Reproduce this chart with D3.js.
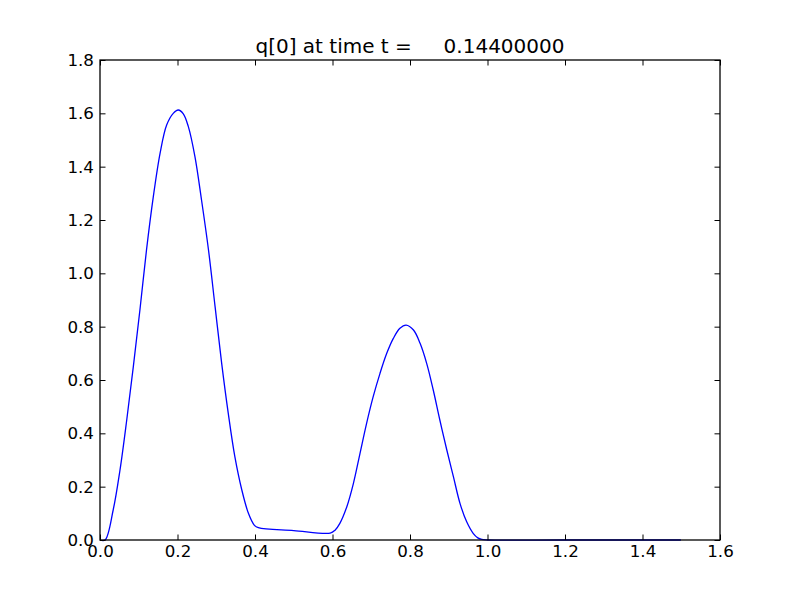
<!DOCTYPE html>
<html>
<head>
<meta charset="utf-8">
<script src="https://d3js.org/d3.v7.min.js"></script>
<style>
body { margin: 0; background: #fff; }
svg { display: block; }
text { font-family: "DejaVu Sans", sans-serif; fill: #000; }
</style>
</head>
<body>
<svg id="chart" width="800" height="600"></svg>
<script>
const title = "q[0] at time t =     0.14400000";
const xTicks = [0.0, 0.2, 0.4, 0.6, 0.8, 1.0, 1.2, 1.4, 1.6];
const yTicks = [0.0, 0.2, 0.4, 0.6, 0.8, 1.0, 1.2, 1.4, 1.6, 1.8];
const xs = [0.0, 0.013, 0.034, 0.0516, 0.069, 0.086, 0.103, 0.120, 0.1376, 0.155, 0.172, 0.189,
  0.202, 0.215, 0.228, 0.245, 0.262, 0.280, 0.297, 0.314, 0.331, 0.348, 0.366, 0.383, 0.398,
  0.4086, 0.5, 0.594, 0.606, 0.619, 0.637, 0.654, 0.671, 0.688, 0.705, 0.7226, 0.740, 0.757,
  0.774, 0.790, 0.809, 0.826, 0.843, 0.860, 0.877, 0.895, 0.912, 0.929, 0.946, 0.963, 0.975,
  0.985, 1.0, 1.2, 1.499];
const qs = [0.0, 0.0, 0.1125, 0.2625, 0.45, 0.65, 0.8625, 1.0875, 1.2875, 1.45, 1.556, 1.6,
  1.6125, 1.598, 1.55, 1.4375, 1.275, 1.0875, 0.875, 0.6625, 0.475, 0.3125, 0.1875, 0.1, 0.056,
  0.046, 0.0355, 0.026, 0.036, 0.0625, 0.125, 0.2125, 0.325, 0.4375, 0.5375, 0.625, 0.7, 0.756,
  0.794, 0.806, 0.7875, 0.7375, 0.6625, 0.5625, 0.45, 0.3375, 0.2375, 0.1375, 0.069, 0.025, 0.008,
  0.002, 0.0, 0.0, 0.0];

(function () {
const svg = d3.select("#chart");
const L = 100, R = 720, T = 60, B = 540;
const x = d3.scaleLinear().domain([0, 1.6]).range([L, R]);
const y = d3.scaleLinear().domain([0, 1.8]).range([B, T]);
const tl = 5.5;
const fs = "16.7px";

const data = xs.map((v, i) => [v, qs[i]]);
svg.append("path")
  .datum(data)
  .attr("fill", "none")
  .attr("stroke", "#0000ff")
  .attr("stroke-width", 1.3)
  .attr("d", d3.line().x(d => x(d[0])).y(d => y(d[1])).curve(d3.curveCatmullRom.alpha(0.5)));

svg.append("rect").attr("x", L).attr("y", T).attr("width", R - L).attr("height", B - T)
  .attr("fill", "none").attr("stroke", "#000").attr("stroke-width", 1.3);

const fmt = d3.format(".1f");
const gB = svg.append("g").attr("transform", `translate(0,${B})`)
  .call(d3.axisBottom(x).tickValues(xTicks).tickFormat(fmt).tickSize(-tl).tickPadding(5.5));
const gT = svg.append("g").attr("transform", `translate(0,${T})`)
  .call(d3.axisTop(x).tickValues(xTicks).tickFormat("").tickSize(-tl));
const gL = svg.append("g").attr("transform", `translate(${L},0)`)
  .call(d3.axisLeft(y).tickValues(yTicks).tickFormat(fmt).tickSize(-tl).tickPadding(6));
const gR = svg.append("g").attr("transform", `translate(${R},0)`)
  .call(d3.axisRight(y).tickValues(yTicks).tickFormat("").tickSize(-tl));
[gB, gT, gL, gR].forEach(g => {
  g.select(".domain").remove();
  g.selectAll("line").attr("stroke", "#000").attr("stroke-width", 1);
  g.selectAll("text").style("font-family", '"DejaVu Sans", sans-serif').style("font-size", fs).attr("fill", "#000");
});

svg.append("text")
  .attr("x", (L + R) / 2).attr("y", 53)
  .attr("text-anchor", "middle")
  .style("font-size", "20px")
  .style("white-space", "pre")
  .attr("xml:space", "preserve")
  .text(title);
})();
</script>
</body>
</html>
